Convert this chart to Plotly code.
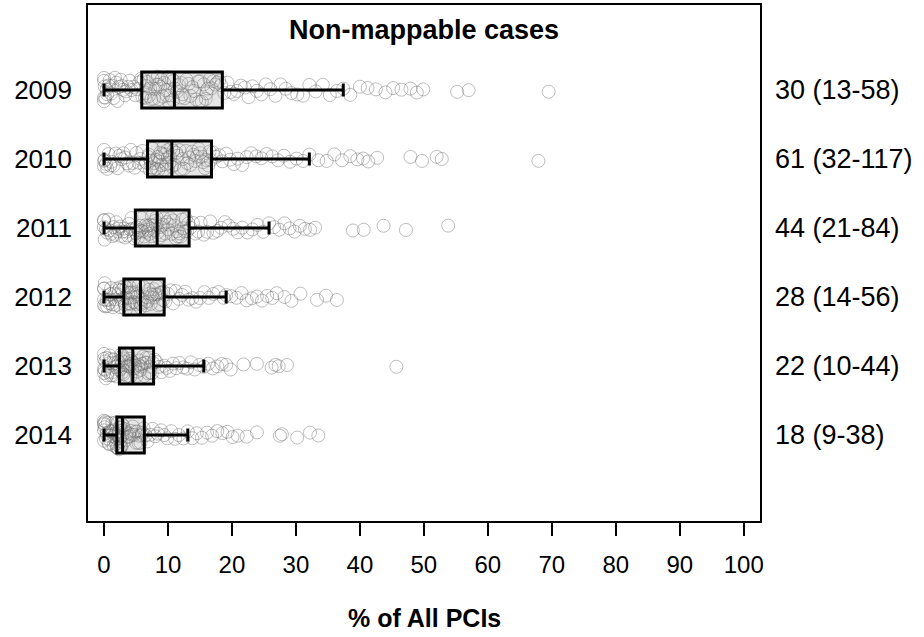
import plotly.graph_objects as go

years = ["2009", "2010", "2011", "2012", "2013", "2014"]
positions = [1, 2, 3, 4, 5, 6]
right_labels = ["30 (13-58)", "61 (32-117)", "44 (21-84)", "28 (14-56)", "22 (10-44)", "18 (9-38)"]

q1 = [5.9, 6.8, 4.9, 3.1, 2.4, 2.0]
median = [11.0, 10.6, 8.3, 5.7, 4.5, 2.9]
q3 = [18.5, 16.8, 13.3, 9.4, 7.75, 6.3]
lower_whisker = [0.0, 0.0, 0.0, 0.0, 0.0, 0.0]
upper_whisker = [37.4, 32.1, 25.8, 19.1, 15.6, 13.1]

pts_2009 = [0, 0, 0, 0, 0.1, 0.2, 0.4, 0.5, 0.7, 0.9, 1.1, 1.3, 1.5, 1.7, 1.9, 2.1, 2.3, 2.6, 2.8, 3.0,
            3.3, 3.5, 3.8, 4.0, 4.3, 4.6, 4.9, 5.2, 5.5, 5.8,
            6.0, 6.2, 6.4, 6.6, 6.8, 7.0, 7.2, 7.4, 7.6, 7.8, 8.0, 8.2, 8.4, 8.6, 8.8, 9.0, 9.2, 9.4,
            9.6, 9.8, 10.0, 10.2, 10.4, 10.6, 10.8, 10.9, 6.5, 8.5,
            11.1, 11.4, 11.7, 12.0, 12.3, 12.6, 12.9, 13.2, 13.5, 13.8, 14.1, 14.4, 14.7, 15.0, 15.3,
            15.6, 15.9, 16.2, 16.5, 16.8, 17.1, 17.4, 17.7, 18.0, 18.3, 12.1, 14.9, 16.0,
            18.8, 19.3, 19.8, 20.3, 20.8, 21.4, 22.0, 22.6, 23.2, 23.9, 24.6, 25.3, 26.0, 26.8, 27.6,
            28.4, 29.3, 30.2, 31.1, 32.1, 33.1, 34.2, 35.3, 36.4, 37.4,
            38.5, 40, 41.2, 42.5, 44, 45.2, 46.5, 47.9, 48.9, 49.9, 55.2, 57.0, 69.5]
pts_2010 = [0, 0, 0, 0.1, 0.3, 0.5, 0.7, 1.0, 1.2, 1.5, 1.8, 2.1, 2.4, 2.7, 3.0, 3.3, 3.6, 3.9, 4.2,
            4.5, 4.8, 5.1, 5.4, 5.7, 6.0, 6.3, 6.6,
            6.9, 7.0, 7.2, 7.3, 7.5, 7.6, 7.8, 7.9, 8.1, 8.2, 8.4, 8.5, 8.7, 8.8, 9.0, 9.1, 9.3, 9.4,
            9.6, 9.7, 9.9, 10.0, 10.2, 10.3, 10.5, 10.6,
            10.8, 11.0, 11.3, 11.5, 11.8, 12.0, 12.3, 12.5, 12.8, 13.0, 13.3, 13.5, 13.8, 14.0, 14.3,
            14.5, 14.8, 15.0, 15.3, 15.5, 15.8, 16.0, 16.3, 16.5, 16.7,
            17.0, 17.5, 18.0, 18.5, 19.1, 19.7, 20.3, 20.9, 21.6, 22.3, 23.0, 23.8, 24.6, 25.4, 26.3,
            27.2, 28.1, 29.1, 30.1, 31.1, 32.1, 33.5, 34.8, 36, 37.2, 38.5, 39.6, 40.5, 41.3, 42.7,
            47.9, 49.7, 52.0, 52.8, 67.9]
pts_2011 = [0, 0, 0, 0.1, 0.3, 0.5, 0.7, 0.9, 1.1, 1.3, 1.5, 1.7, 1.9, 2.1, 2.3, 2.5, 2.7, 2.9, 3.1,
            3.3, 3.5, 3.7, 3.9, 4.1, 4.3, 4.5, 4.7,
            5.0, 5.1, 5.3, 5.4, 5.6, 5.7, 5.9, 6.0, 6.2, 6.3, 6.5, 6.6, 6.8, 6.9, 7.1, 7.2, 7.4, 7.5,
            7.7, 7.8, 8.0, 8.1, 8.2,
            8.4, 8.6, 8.8, 9.0, 9.2, 9.4, 9.6, 9.8, 10.0, 10.2, 10.4, 10.6, 10.8, 11.0, 11.2, 11.4,
            11.6, 11.8, 12.0, 12.2, 12.4, 12.6, 12.8, 13.0, 13.2,
            13.5, 13.9, 14.3, 14.7, 15.1, 15.6, 16.1, 16.6, 17.1, 17.7, 18.3, 18.9, 19.5, 20.2, 20.9,
            21.6, 22.4, 23.2, 24.0, 24.9, 25.8, 26.6, 27.4, 28.2, 29.0, 29.8, 30.6, 31.4, 32.2, 33.0,
            38.9, 40.6, 43.7, 47.2, 53.8]
pts_2012 = [0, 0, 0, 0, 0.1, 0.2, 0.4, 0.5, 0.7, 0.8, 1.0, 1.1, 1.3, 1.4, 1.6, 1.7, 1.9, 2.0, 2.2,
            2.3, 2.5, 2.6, 2.8, 2.9, 3.0,
            3.2, 3.3, 3.4, 3.5, 3.6, 3.8, 3.9, 4.0, 4.1, 4.2, 4.4, 4.5, 4.6, 4.7, 4.8, 5.0, 5.1, 5.2,
            5.3, 5.4, 5.6, 5.7,
            5.8, 6.0, 6.2, 6.3, 6.5, 6.7, 6.8, 7.0, 7.2, 7.3, 7.5, 7.7, 7.8, 8.0, 8.2, 8.3, 8.5, 8.7,
            8.8, 9.0, 9.2, 9.3,
            9.6, 10.0, 10.4, 10.8, 11.2, 11.7, 12.2, 12.7, 13.2, 13.8, 14.4, 15.0, 15.7, 16.4, 17.1,
            17.9, 18.7, 19.1, 19.9, 20.7, 21.5, 22.3, 23.1, 23.9, 24.7, 25.5, 26.3, 27.0, 28.2, 29.3,
            30.7, 33.3, 34.7, 36.4]
pts_2013 = [0, 0, 0, 0, 0.1, 0.2, 0.3, 0.4, 0.5, 0.6, 0.8, 0.9, 1.0, 1.1, 1.3, 1.4, 1.5, 1.7, 1.8,
            1.9, 2.1, 2.2, 2.3,
            2.5, 2.6, 2.7, 2.8, 2.9, 3.0, 3.1, 3.2, 3.3, 3.4, 3.5, 3.6, 3.7, 3.8, 3.9, 4.0, 4.1, 4.2,
            4.3, 4.4,
            4.6, 4.8, 4.9, 5.1, 5.2, 5.4, 5.5, 5.7, 5.8, 6.0, 6.1, 6.3, 6.4, 6.6, 6.7, 6.9, 7.0, 7.2,
            7.3, 7.5, 7.6,
            7.9, 8.2, 8.6, 9.0, 9.4, 9.8, 10.3, 10.8, 11.3, 11.8, 12.4, 13.0, 13.6, 14.2, 14.9, 15.6,
            16.3, 17.0, 17.7, 18.4, 19.1, 19.8, 21.8, 23.9, 26.2, 26.8, 27.3, 28.6, 45.7]
pts_2014 = [0, 0, 0, 0, 0, 0.1, 0.2, 0.3, 0.4, 0.5, 0.6, 0.7, 0.8, 0.9, 1.0, 1.1, 1.2, 1.3, 1.4,
            1.5, 1.6, 1.7, 1.8, 1.9,
            2.0, 2.05, 2.1, 2.15, 2.2, 2.25, 2.3, 2.35, 2.4, 2.45, 2.5, 2.55, 2.6, 2.65, 2.7, 2.75,
            2.8, 2.85,
            3.0, 3.2, 3.4, 3.5, 3.7, 3.9, 4.0, 4.2, 4.4, 4.5, 4.7, 4.9, 5.0, 5.2, 5.4, 5.5, 5.7, 5.9,
            6.0, 6.2,
            6.5, 6.8, 7.2, 7.6, 8.0, 8.4, 8.9, 9.4, 9.9, 10.5, 11.1, 11.7, 12.4, 13.1, 13.8, 14.5,
            15.3, 16.1, 16.9, 17.7, 18.5, 19.3, 20.1, 20.9, 22.3, 23.9, 27.5, 27.8, 30.2, 32.2, 33.5]

all_pts = [pts_2009, pts_2010, pts_2011, pts_2012, pts_2013, pts_2014]

px_vals, py_vals = [], []
for pos, vals in zip(positions, all_pts):
    px_vals += vals
    py_vals += [pos] * len(vals)

fig = go.Figure()

# jittered sample points (invisible box)
fig.add_trace(go.Box(
    x=px_vals, y=py_vals, orientation="h",
    boxpoints="all", jitter=0.8, pointpos=0, width=0.52,
    fillcolor="rgba(0,0,0,0)", line=dict(color="rgba(0,0,0,0)", width=0),
    marker=dict(symbol="circle-open", size=13, color="rgba(100,100,100,0.42)",
                line=dict(width=1)),
    hoverinfo="skip", showlegend=False,
))

# precomputed boxes
fig.add_trace(go.Box(
    y=positions, orientation="h",
    q1=q1, median=median, q3=q3,
    lowerfence=lower_whisker, upperfence=upper_whisker,
    boxpoints=False, width=0.52, whiskerwidth=0.36,
    fillcolor="rgba(140,140,140,0.22)", line=dict(color="black", width=3),
    showlegend=False,
))

for pos, txt in zip(positions, right_labels):
    fig.add_annotation(x=1, xref="paper", y=pos, yref="y", text=txt,
                       showarrow=False, xanchor="left", xshift=12,
                       font=dict(size=27, color="black"))

fig.add_annotation(x=0.5, xref="paper", y=1, yref="paper", yanchor="top", yshift=-9,
                   text="<b>Non-mappable cases</b>", showarrow=False,
                   font=dict(size=27, color="black"))
fig.add_annotation(x=0.5, xref="paper", y=0, yref="paper", yanchor="middle", yshift=-96,
                   text="<b>% of All PCIs</b>", showarrow=False,
                   font=dict(size=25, color="black"))

fig.add_shape(type="rect", xref="paper", yref="paper", x0=0, y0=0, x1=1, y1=1,
              line=dict(color="black", width=2), layer="above")

fig.update_layout(
    width=924, height=637,
    margin=dict(l=87, r=163, t=4, b=115),
    paper_bgcolor="white", plot_bgcolor="white",
    font=dict(family="Liberation Sans, Arial, sans-serif", size=24, color="black"),
    boxmode="overlay",
    xaxis=dict(range=[-2.66, 102.7], tickvals=list(range(0, 101, 10)),
               showgrid=False, zeroline=False, showline=False,
               ticks="outside", ticklen=13, tickwidth=2, tickcolor="black",
               ticklabelstandoff=8, tickfont=dict(size=24)),
    yaxis=dict(range=[7.262, -0.2475], tickvals=positions, ticktext=years,
               showgrid=False, zeroline=False, showline=False, ticks="",
               ticklabelstandoff=14, tickfont=dict(size=26)),
)

fig.write_html("out.html", config={"displayModeBar": False},
               post_script="document.body.style.margin='0px';")
